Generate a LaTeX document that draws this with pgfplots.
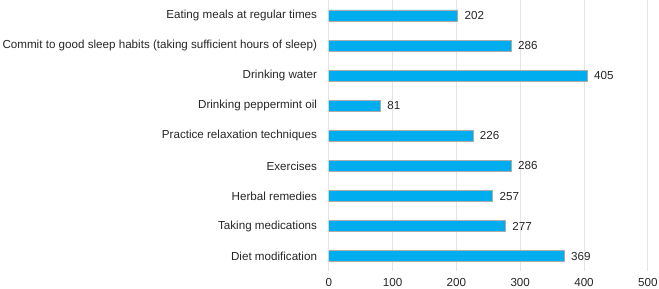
\documentclass[border={2.5bp 1.5bp 1.5bp 0bp}]{standalone}
\usepackage{pgfplots}
\pgfplotsset{compat=1.18}
\usepackage{fontspec}
\setmainfont{Liberation Sans}
\definecolor{barblue}{HTML}{00AEEF}
\definecolor{bargray}{HTML}{ABABAB}
\definecolor{gridgray}{HTML}{E4E4E4}
\definecolor{txt}{HTML}{262626}
\begin{document}
\fontsize{11.5bp}{13bp}\selectfont
\begin{tikzpicture}
\begin{axis}[
  scale only axis,
  width=315.5bp, height=268bp,
  xbar, bar width=11bp,
  xmin=0, xmax=500, ymin=0.5, ymax=9.5,
  y dir=reverse,
  xtick={0,100,200,300,400,500},
  ytick={1,2,3,4,5,6,7,8,9},
  yticklabels={Eating meals at regular times,
    Commit to good sleep habits (taking sufficient hours of sleep),
    Drinking water, Drinking peppermint oil, Practice relaxation techniques,
    Exercises, Herbal remedies, Taking medications, Diet modification},
  axis line style={draw=none},
  major tick length=0pt,
  xmajorgrids,
  grid style={gridgray, line width=0.8bp},
  /pgf/number format/assume math mode=true,
  tick label style={font=\fontsize{11.5bp}{13bp}\selectfont, text=txt},
  yticklabel style={inner sep=0pt, xshift=-11.5bp},
  xticklabel style={inner sep=0pt, yshift=-7bp},
  nodes near coords,
  every node near coord/.append style={font=\fontsize{11.5bp}{13bp}\selectfont, text=txt, inner sep=0pt, xshift=6.5bp},
]
\addplot[fill=barblue, draw=bargray, line width=0.7bp] coordinates {
  (202,1) (286,2) (405,3) (81,4) (226,5) (286,6) (257,7) (277,8) (369,9)
};
\end{axis}
\end{tikzpicture}
\end{document}
